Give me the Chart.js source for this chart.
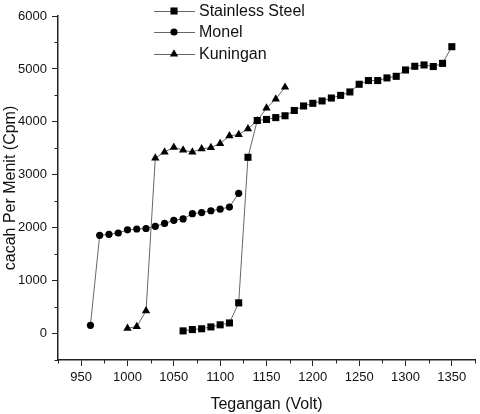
<!DOCTYPE html>
<html>
<head>
<meta charset="utf-8">
<script src="https://cdn.jsdelivr.net/npm/chart.js@4/dist/chart.umd.min.js"></script>
<style>
  html, body { margin: 0; padding: 0; background: #fff; }
  #wrap { width: 480px; height: 414px; }
</style>
</head>
<body>
<div id="wrap"><canvas id="chart" width="480" height="414"></canvas></div>
<script>
const voltSS = [1060, 1070, 1080, 1090, 1100, 1110, 1120, 1130, 1140, 1150, 1160, 1170, 1180, 1190, 1200,
    1210, 1220, 1230, 1240, 1250, 1260, 1270, 1280, 1290, 1300, 1310, 1320, 1330, 1340, 1350];
const cpmSS = [50, 75, 90, 125, 165, 200, 580, 3330, 4025, 4045, 4080, 4115, 4215, 4300, 4350,
    4395, 4450, 4500, 4565, 4710, 4780, 4780, 4830, 4860, 4980, 5050, 5075, 5045, 5105, 5420];

const voltMonel = [960, 970, 980, 990, 1000, 1010, 1020, 1030, 1040, 1050, 1060, 1070, 1080, 1090, 1100, 1110, 1120];
const cpmMonel = [155, 1855, 1875, 1900, 1960, 1975, 1985, 2025, 2080, 2140, 2165, 2265, 2285, 2320, 2350, 2390, 2650];

const voltKuningan = [1000, 1010, 1020, 1030, 1040, 1050, 1060, 1070, 1080, 1090, 1100, 1110, 1120, 1130, 1140, 1150, 1160, 1170];
const cpmKuningan = [100, 130, 430, 3315, 3430, 3520, 3465, 3430, 3490, 3515, 3590, 3735, 3760, 3870, 4020, 4260, 4430, 4655];

const xTicks = [950, 1000, 1050, 1100, 1150, 1200, 1250, 1300, 1350];
const xMinorTicks = [925, 975, 1025, 1075, 1125, 1175, 1225, 1275, 1325, 1375];
const yTicks = [0, 1000, 2000, 3000, 4000, 5000, 6000];
const yMinorTicks = [-500, 500, 1500, 2500, 3500, 4500, 5500];

const FONT = 'Liberation Sans, Arial, Helvetica, sans-serif';
const AXIS_COLOR = '#222';
const LINE_COLOR = '#666';

function toPoints(xs, ys) {
    return xs.map((x, i) => ({ x: x, y: ys[i] }));
}

const series = [
    { label: 'Stainless Steel', data: toPoints(voltSS, cpmSS), pointStyle: 'rect', pointRadius: 5 },
    { label: 'Monel', data: toPoints(voltMonel, cpmMonel), pointStyle: 'circle', pointRadius: 3.6 },
    { label: 'Kuningan', data: toPoints(voltKuningan, cpmKuningan), pointStyle: 'triangle', pointRadius: 4.8 }
];

// minor ticks and the line+marker legend, drawn after the chart
const extrasPlugin = {
    id: 'extras',
    afterDraw(chart) {
        const ctx = chart.ctx;
        const xs = chart.scales.x, ys = chart.scales.y;
        const area = chart.chartArea;
        ctx.save();
        ctx.strokeStyle = AXIS_COLOR;
        ctx.lineWidth = 1;
        ctx.beginPath();
        xMinorTicks.forEach(v => {
            const px = Math.round(xs.getPixelForValue(v)) + 0.5;
            ctx.moveTo(px, area.bottom);
            ctx.lineTo(px, area.bottom + 3.5);
        });
        yMinorTicks.forEach(v => {
            const py = Math.round(ys.getPixelForValue(v)) + 0.5;
            ctx.moveTo(area.left, py);
            ctx.lineTo(area.left - 3.5, py);
        });
        ctx.stroke();

        // legend
        const rowY = [11, 32, 54];
        chart.data.datasets.forEach((ds, i) => {
            const y = rowY[i];
            ctx.strokeStyle = LINE_COLOR;
            ctx.lineWidth = 1;
            ctx.beginPath();
            ctx.moveTo(154, y + 0.5);
            ctx.lineTo(195, y + 0.5);
            ctx.stroke();
            ctx.fillStyle = '#000';
            ctx.strokeStyle = '#000';
            Chart.helpers.drawPoint(ctx, { pointStyle: ds.pointStyle, radius: ds.pointRadius, rotation: 0, borderWidth: 0 }, 174, y);
            ctx.fillStyle = '#111';
            ctx.font = '16px ' + FONT;
            ctx.textAlign = 'left';
            ctx.textBaseline = 'middle';
            ctx.fillText(ds.label, 199, y + 1);
        });
        ctx.restore();
    }
};

new Chart(document.getElementById('chart'), {
    type: 'scatter',
    data: {
        datasets: series.map(s => ({
            label: s.label,
            data: s.data,
            showLine: true,
            borderColor: LINE_COLOR,
            borderWidth: 1,
            backgroundColor: '#000',
            pointBackgroundColor: '#000',
            pointBorderColor: '#000',
            pointBorderWidth: 0,
            pointStyle: s.pointStyle,
            pointRadius: s.pointRadius,
            pointHoverRadius: s.pointRadius,
            tension: 0
        }))
    },
    options: {
        responsive: false,
        animation: false,
        devicePixelRatio: 1,
        layout: { padding: { top: 16, right: 2, left: 0, bottom: 0 } },
        plugins: {
            legend: { display: false },
            tooltip: { enabled: false }
        },
        scales: {
            x: {
                type: 'linear',
                min: 925,
                max: 1375,
                afterBuildTicks: scale => { scale.ticks = xTicks.map(v => ({ value: v })); },
                afterFit: scale => { scale.height = 54; },
                border: { color: AXIS_COLOR, width: 1.5 },
                grid: { drawOnChartArea: false, drawTicks: true, tickLength: 6, tickColor: AXIS_COLOR, tickWidth: 1 },
                ticks: { color: '#111', font: { family: FONT, size: 13 }, padding: 4, maxRotation: 0, callback: v => String(v) },
                title: { display: true, text: 'Tegangan (Volt)', color: '#111', font: { family: FONT, size: 16 }, padding: { top: 4, bottom: 0 } }
            },
            y: {
                type: 'linear',
                min: -500,
                max: 6000,
                afterBuildTicks: scale => { scale.ticks = yTicks.map(v => ({ value: v })); },
                afterFit: scale => { scale.width = 58; },
                border: { color: AXIS_COLOR, width: 1.5 },
                grid: { drawOnChartArea: false, drawTicks: true, tickLength: 6, tickColor: AXIS_COLOR, tickWidth: 1 },
                ticks: { color: '#111', font: { family: FONT, size: 13 }, padding: 5, callback: v => String(v) },
                title: { display: true, text: 'cacah Per Menit (Cpm)', color: '#111', font: { family: FONT, size: 16 }, padding: { top: 1, bottom: 2 } }
            }
        }
    },
    plugins: [extrasPlugin]
});
</script>
</body>
</html>
